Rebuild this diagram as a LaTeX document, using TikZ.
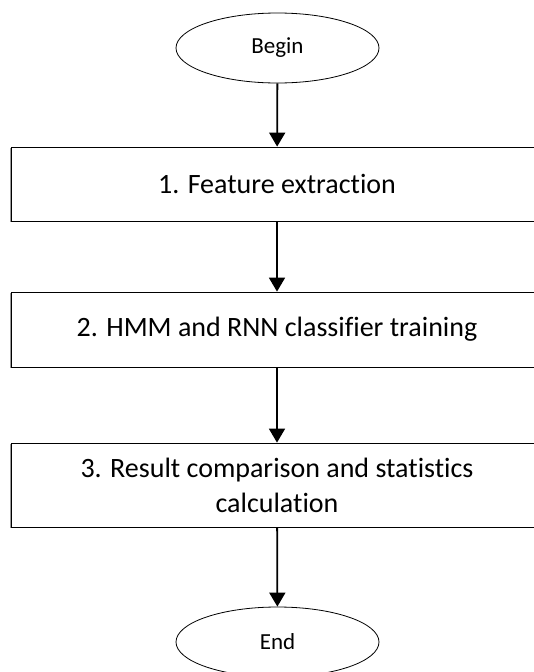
\documentclass[tikz,border=0pt]{standalone}
\usepackage{fontspec}
\setmainfont[Ligatures={NoCommon}]{Carlito}
\usetikzlibrary{arrows.meta,shapes.geometric,shadows}
\begin{document}
\begin{tikzpicture}[x=1pt,y=-1pt,
  term/.style={ellipse,draw=black,line width=0.8pt,fill=white,minimum width=203pt,minimum height=70pt,inner sep=0pt,font=\fontsize{23}{28}\selectfont},
  stepbox/.style={rectangle,draw=black,line width=0.8pt,fill=white,minimum width=532pt,inner sep=0pt,align=center,
    font=\fontsize{28}{35}\selectfont,
    drop shadow={shadow xshift=-1.2pt,shadow yshift=-1.2pt,fill=gray!80,opacity=1}},
  flow/.style={line width=1.8pt,-{Triangle[width=16pt,length=14pt]}}
]
\useasboundingbox (0,0) rectangle (534,672);
\clip (0,0) rectangle (534,672);
\fill[white] (0,0) rectangle (534,672);
\node[term] (begin) at (277.5,48) {Begin};
\node[stepbox,minimum height=74pt] (b1) at (277,184) {1. Feature extraction};
\node[stepbox,minimum height=75pt] (b2) at (277,329.5) {2. HMM and RNN classifier training};
\node[stepbox,minimum height=84pt] (b3) at (277,485) {3. Result comparison and statistics\\calculation};
\node[term] (end) at (277.5,642) {End};
\draw[flow] (begin) -- (b1);
\draw[flow] (b1) -- (b2);
\draw[flow] (b2) -- (b3);
\draw[flow] (b3) -- (end);
\end{tikzpicture}
\end{document}
